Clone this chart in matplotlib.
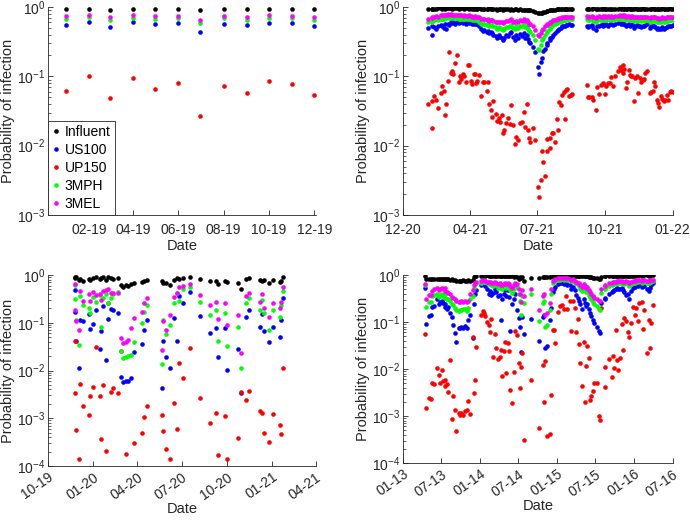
import numpy as np
import matplotlib
matplotlib.use("Agg")
import matplotlib.pyplot as plt
import matplotlib.dates as mdates
from matplotlib.ticker import LogLocator, NullFormatter

plt.rcParams['font.family'] = ['Liberation Sans', 'DejaVu Sans']
plt.rcParams['mathtext.default'] = 'regular'

names = ['Influent', 'US100', 'UP150', '3MPH', '3MEL']
colors = ['k', (0, 0, 1), (1, 0, 0), (0, 1, 0), (1, 0, 1)]
axcol = '#262626'

# ---- panel 1: monthly samples 2019 (probabilities)
dates1 = ['2019-01-01', '2019-02-01', '2019-03-01', '2019-04-01', '2019-05-01', '2019-06-01',
          '2019-07-01', '2019-08-01', '2019-09-01', '2019-10-01', '2019-11-01', '2019-12-01']
inf1 = [0.93, 0.94, 0.92, 0.94, 0.93, 0.94, 0.90, 0.93, 0.93, 0.94, 0.93, 0.93]
us1 = [0.556, 0.607, 0.52, 0.60, 0.56, 0.588, 0.44, 0.575, 0.543, 0.594, 0.58, 0.537]
up1 = [0.062, 0.10, 0.0485, 0.094, 0.0654, 0.0807, 0.027, 0.073, 0.0566, 0.086, 0.077, 0.0536]
mph1 = [0.67, 0.71, 0.64, 0.70, 0.67, 0.69, 0.59, 0.686, 0.66, 0.70, 0.686, 0.65]
mel1 = [0.733, 0.767, 0.71, 0.76, 0.733, 0.75, 0.656, 0.75, 0.725, 0.76, 0.75, 0.717]

# ---- panel 2: days after 2020-12-31, values as log10(probability)
base2 = '2020-12-31'
day2 = [34, 39, 40, 42, 45, 48, 51, 53, 55, 57, 58, 61, 62, 65, 66, 68, 71, 73, 76, 77,
        79, 81, 83, 85, 88, 90, 92, 93, 96, 98, 99, 101, 103, 106, 108, 110, 114, 116, 117, 119,
        121, 122, 126, 128, 130, 131, 134, 136, 137, 140, 143, 145, 147, 149, 152, 154, 156, 159, 161, 164,
        166, 168, 169, 171, 173, 176, 179, 183, 185, 187, 189, 190, 193, 195, 196, 199, 200, 202, 204, 206,
        209, 210, 212, 214, 216, 219, 220, 221, 223, 225, 228, 229,
        249, 251, 253, 256, 258, 262, 263, 266, 268, 271, 272, 274, 276, 278, 281, 282, 285, 287,
        292, 294, 296, 298, 299, 300, 302, 304, 306, 308, 309, 311, 313, 315, 317, 319, 321, 323, 325, 327,
        329, 331, 335, 337, 339, 341, 342, 344, 346, 348, 350, 352, 354, 355, 358, 360, 362, 364, 366]
inf2 = [-.03, -.03, -.03, -.03, -.03, -.02, -.02, -.03, -.02, -.03, -.02, -.02, -.02, -.02, -.03, -.02, -.02, -.02, -.03, -.02,
        -.02, -.02, -.03, -.02, -.02, -.03, -.02, -.03, -.03, -.02, -.03, -.03, -.02, -.03, -.03, -.03, -.03, -.03, -.02, -.03,
        -.03, -.03, -.03, -.04, -.03, -.03, -.03, -.04, -.03, -.03, -.03, -.04, -.03, -.04, -.03, -.03, -.04, -.03, -.04, -.04,
        -.04, -.04, -.05, -.05, -.05, -.06, -.07, -.08, -.09, -.08, -.08, -.07, -.07, -.06, -.06, -.05, -.05, -.04, -.04, -.04,
        -.03, -.03, -.03, -.03, -.03, -.03, -.03, -.03, -.03, -.03, -.03, -.03,
        -.03, -.03, -.03, -.03, -.02, -.03, -.03, -.03, -.03, -.02, -.03, -.03, -.03, -.03, -.03, -.03, -.03, -.03,
        -.03, -.02, -.03, -.03, -.02, -.03, -.03, -.03, -.02, -.03, -.03, -.03, -.03, -.02, -.03, -.03, -.03, -.03, -.02, -.03,
        -.03, -.03, -.03, -.03, -.02, -.03, -.03, -.03, -.03, -.03, -.03, -.02, -.03, -.03, -.03, -.03, -.02, -.03, -.03]
us2 = [-.30, -.41, -.28, -.29, -.31, -.27, -.26, -.28, -.30, -.25, -.31, -.24, -.26, -.22, -.23, -.22, -.24, -.22, -.23, -.21,
       -.22, -.23, -.21, -.24, -.22, -.23, -.22, -.25, -.24, -.22, -.24, -.25, -.27, -.32, -.35, -.33, -.36, -.35, -.38, -.36,
       -.37, -.40, -.42, -.44, -.41, -.43, -.45, -.47, -.44, -.40, -.42, -.38, -.36, -.43, -.48, -.41, -.44, -.39, -.42, -.37,
       -.44, -.40, -.46, -.50, -.52, -.58, -.65, -.86, -.96, -.79, -.74, -.64, -.60, -.55, -.52, -.48, -.45, -.43, -.40, -.37,
       -.35, -.33, -.31, -.30, -.28, -.27, -.27, -.26, -.26, -.25, -.26, -.26,
       -.27, -.29, -.28, -.26, -.30, -.33, -.28, -.27, -.26, -.25, -.27, -.26, -.25, -.27, -.25, -.24, -.26, -.24,
       -.23, -.22, -.24, -.23, -.25, -.24, -.28, -.26, -.25, -.27, -.26, -.25, -.30, -.27, -.26, -.28, -.27, -.29, -.27, -.28,
       -.26, -.25, -.30, -.28, -.28, -.27, -.29, -.31, -.30, -.32, -.31, -.29, -.31, -.30, -.29, -.28, -.27, -.27, -.26]
up2 = [-1.40, -1.75, -1.35, -1.28, -1.34, -1.45, -1.24, -1.14, -1.21, -1.56, -1.40, -1.07, -0.65, -0.95, -0.92, -0.97, -0.81, -0.69, -1.08, -0.99,
       -1.04, -0.97, -0.99, -1.08, -0.83, -0.84, -1.07, -1.11, -0.96, -0.97, -1.10, -1.06, -0.98, -1.28, -1.08, -1.08, -1.21, -1.08, -1.40, -1.49,
       -1.59, -1.36, -1.54, -1.65, -1.60, -1.66, -1.56, -1.81, -1.78, -1.68, -1.60, -1.69, -1.42, -1.70, -1.97, -1.88, -1.92, -1.68, -1.66, -1.51,
       -1.73, -1.40, -1.77, -1.89, -1.95, -1.74, -1.92, -2.60, -2.74, -2.49, -2.07, -2.24, -2.44, -2.07, -1.90, -1.89, -2.04, -1.82, -1.81, -1.94,
       -1.61, -1.78, -1.37, -1.41, -1.27, -1.23, -1.61, -1.19, -1.18, -1.28, -1.27, -1.25,
       -1.12, -1.30, -1.30, -1.30, -1.34, -1.49, -1.16, -1.26, -1.12, -1.10, -1.11, -1.26, -1.14, -1.09, -1.10, -1.01, -1.14, -0.99,
       -0.92, -0.87, -0.91, -0.84, -0.95, -0.89, -1.17, -1.08, -0.91, -0.98, -1.00, -0.99, -1.35, -1.02, -1.00, -1.24, -1.02, -1.08, -1.05, -1.04,
       -0.95, -0.92, -1.24, -1.23, -1.21, -1.08, -1.14, -1.34, -1.39, -1.44, -1.28, -1.32, -1.36, -1.34, -1.27, -1.34, -1.23, -1.21, -1.22]
mph2 = [-.22, -.20, -.21, -.19, -.18, -.19, -.17, -.17, -.17, -.16, -.16, -.15, -.16, -.15, -.16, -.16, -.16, -.16, -.17, -.17,
        -.17, -.18, -.17, -.18, -.18, -.17, -.18, -.19, -.19, -.18, -.19, -.19, -.21, -.24, -.25, -.24, -.26, -.25, -.27, -.26,
        -.27, -.28, -.29, -.31, -.29, -.30, -.31, -.33, -.31, -.29, -.29, -.27, -.26, -.30, -.31, -.28, -.30, -.27, -.28, -.26,
        -.29, -.27, -.31, -.34, -.36, -.40, -.47, -.60, -.62, -.55, -.48, -.45, -.40, -.36, -.34, -.31, -.29, -.27, -.25, -.24,
        -.23, -.22, -.21, -.20, -.20, -.19, -.19, -.19, -.18, -.18, -.18, -.18,
        -.18, -.19, -.19, -.18, -.20, -.21, -.19, -.18, -.19, -.18, -.19, -.18, -.19, -.18, -.19, -.18, -.19, -.18,
        -.18, -.17, -.18, -.17, -.18, -.17, -.19, -.18, -.18, -.19, -.19, -.18, -.20, -.19, -.19, -.20, -.19, -.20, -.19, -.20,
        -.19, -.19, -.21, -.20, -.20, -.19, -.20, -.21, -.21, -.22, -.21, -.20, -.21, -.21, -.20, -.20, -.19, -.19, -.19]
mel2 = [-.17, -.15, -.16, -.14, -.13, -.14, -.12, -.12, -.12, -.11, -.11, -.10, -.11, -.10, -.11, -.11, -.12, -.11, -.12, -.12,
        -.12, -.13, -.12, -.13, -.13, -.12, -.13, -.14, -.14, -.13, -.14, -.14, -.15, -.17, -.18, -.17, -.19, -.18, -.20, -.19,
        -.19, -.20, -.21, -.22, -.21, -.21, -.22, -.23, -.22, -.20, -.20, -.19, -.18, -.21, -.22, -.20, -.21, -.19, -.20, -.18,
        -.20, -.19, -.22, -.24, -.25, -.28, -.33, -.40, -.42, -.37, -.33, -.31, -.28, -.26, -.25, -.23, -.22, -.20, -.19, -.19,
        -.17, -.17, -.16, -.16, -.15, -.15, -.15, -.14, -.14, -.14, -.14, -.14,
        -.13, -.14, -.14, -.13, -.15, -.16, -.14, -.13, -.14, -.13, -.14, -.13, -.14, -.13, -.14, -.13, -.14, -.13,
        -.13, -.12, -.13, -.12, -.13, -.12, -.14, -.13, -.13, -.14, -.14, -.13, -.15, -.14, -.14, -.15, -.14, -.15, -.14, -.15,
        -.14, -.14, -.16, -.15, -.15, -.14, -.15, -.16, -.16, -.17, -.16, -.15, -.16, -.16, -.15, -.15, -.14, -.14, -.14]

# ---- panel 3: days after 2019-10-01, log10(probability)
base3 = '2019-10-01'
day3 = [55, 56, 57, 63, 65, 71, 84, 86, 92, 98, 106, 108, 113, 118, 122, 128, 134, 144, 149, 154,
        160, 164, 169, 176, 192, 196, 202, 234, 236, 242, 250, 257, 264, 269, 276, 290, 311, 331, 344, 347,
        363, 366, 388, 395, 406, 411, 433, 438, 442, 452, 461, 474, 476, 481]
inf3 = [-.05, -.07, -.03, -.10, -.09, -.12, -.09, -.10, -.07, -.05, -.09, -.07, -.05, -.10, -.03, -.07, -.09, -.07, -.21, -.24,
        -.21, -.23, -.19, -.16, -.14, -.12, -.10, -.12, -.16, -.17, -.21, -.10, -.07, -.08, -.07, -.03, -.09, -.12, -.12, -.19,
        -.12, -.14, -.16, -.30, -.09, -.07, -.10, -.12, -.10, -.17, -.10, -.14, -.12, -.05]
us3 = [-.31, -.78, -1.38, -1.95, -.94, -.97, -.81, -1.13, -1.02, -.73, -1.55, -1.18, -.65, -1.79, -.93, -.72, -.74, -.79, -2.14, -2.25,
       -2.23, -2.21, -2.16, -1.62, -1.44, -1.15, -.95, -2.37, -1.39, -1.72, -1.95, -.90, -1.38, -.44, -.58, -.35, -.86, -1.22, -1.11, -1.71,
       -1.11, -1.98, -1.55, -2.47, -.87, -.73, -1.08, -.82, -1.18, -1.41, -1.09, -1.29, -.94, -.49]
up3 = [-1.39, -2.47, -3.25, -3.85, -2.28, -2.75, -2.94, -2.54, -2.35, -1.50, -2.54, -3.43, -2.30, -3.69, -0.58, -2.46, -2.37, -2.48, -1.60, np.nan,
       -3.76, np.nan, np.nan, -3.51, -3.32, -2.97, -2.75, -2.94, -3.27, -3.64, -3.85, -2.68, -3.22, -1.84, -2.16, -1.53, -2.58, -3.10, -2.90, -3.78,
       -2.96, -3.86, -3.41, -2.46, -2.61, -2.42, -2.85, -2.90, -3.31, -3.50, -2.92, -3.15, -3.34, -1.95]
mph3 = [-.21, -.51, -.95, -1.46, -.44, -.63, -.68, -.80, -.45, -.56, -.42, -1.08, -.49, -.40, -.59, -.47, -.40, -.35, -1.60, -1.74,
        -1.72, -1.69, -1.67, -1.41, -1.01, -.77, -.63, -1.86, -.95, -1.23, -1.04, -.59, -.38, -.54, -.30, -.24, -.56, -.84, -.73, -1.39,
        -.80, -1.48, -1.08, -1.95, -.58, -.49, -.73, -.52, -.79, -1.15, -.73, -.88, -.63, -.33]
mel3 = [-.19, -.73, -.97, -1.16, -.33, -.54, -.40, -.54, -.35, -.42, -.40, -.52, -.33, -.31, -.30, -.37, -.38, -.38, -1.32, -1.43,
        -1.41, -1.37, -1.11, -.90, -.77, -.58, -.47, -1.57, -.96, -1.16, -.83, -.45, -.38, -.26, -.23, -.19, -.42, -.63, -.56, -.93,
        -.59, -1.04, -.83, -1.64, -.44, -.37, -.56, -.40, -.70, -.88, -.58, -.68, -.56, -.26]

# ---- panel 4: days after 2013-01-01, log10(probability)
base4 = '2013-01-01'
day4 = [106, 110, 123, 131, 137, 147, 161, 170, 175, 185, 189, 197, 200, 210, 213, 224, 232, 238, 244, 251,
        263, 270, 276, 282, 292, 301, 307, 317, 330, 336, 342, 348, 370, 377, 383, 389, 396, 405, 412, 418,
        427, 434, 440, 452, 459, 465, 471, 478, 484, 490, 497, 503, 509, 516, 525, 531, 538, 547, 553, 560,
        563, 572, 607, 642, 662, 667, 673, 681, 694, 702, 709, 717, 722, 736, 744, 752, 762, 773, 776, 791,
        796, 804, 815, 818, 828, 832, 840, 848, 856, 862, 867, 872, 880, 883, 891, 900, 906, 918, 927, 932,
        938, 954, 958, 973, 990, 993, 1001, 1009, 1014, 1020, 1026, 1036, 1041, 1048, 1058, 1064, 1072, 1080, 1088, 1096,
        1105, 1111, 1119, 1130, 1135, 1143, 1156, 1163, 1167, 1175, 1184]
inf4 = [-.02, -.08, -.09, -.09, -.09, -.09, -.08, -.08, -.09, -.08, -.08, -.08, -.09, -.08, -.09, -.10, -.09, -.10, -.11, -.12,
        -.12, -.12, -.12, -.11, -.12, -.12, -.11, -.12, -.10, -.04, -.03, -.02, -.02, -.02, -.02, -.02, -.01, -.02, -.02, -.02,
        -.02, -.02, -.02, -.03, -.02, -.03, -.03, -.02, -.02, -.03, -.02, -.03, -.03, -.03, -.04, -.03, -.05, -.09, -.05, -.07,
        -.05, -.12, -.06, -.06, -.05, -.05, -.05, -.05, -.04, -.03, -.02, -.02, -.02, -.01, -.01, -.01, -.01, -.01, -.01, -.01,
        -.02, -.01, -.02, -.02, -.02, -.02, -.03, -.03, -.02, -.03, -.03, -.03, -.04, -.04, -.05, -.06, -.06, -.07, -.08, -.08,
        -.04, -.03, -.03, -.03, -.02, -.02, -.02, -.02, -.02, -.02, -.02, -.02, -.02, -.02, -.02, -.02, -.02, -.02, -.02, -.02,
        -.01, -.01, -.01, -.02, -.01, -.01, -.01, -.02, -.01, -.01, -.01]
us4 = [-.28, -1.04, -.88, -.86, -.68, -.65, -.52, -.62, -.58, -.55, -.60, -.62, -.68, -.72, -.68, -.80, -.90, -1.06, -1.24, -1.42,
       -1.13, -1.12, -1.10, -1.13, -1.08, -1.12, -.96, -.85, -1.35, -.62, -.40, -.32, -.22, -.18, -.20, -.24, -.30, -.40, -.35, -.42,
       -.38, -.30, -.36, -.45, -.42, -.96, -.52, -.40, -.32, -.44, -.32, -.46, -1.20, -.62, -.52, -.40, -.74, -.92, -1.10, -1.63,
       -.90, -1.25, -.94, -1.40, -.90, -.85, -1.56, -1.51, -.95, -.70, -.36, -.30, -.26, -.20, -.18, -.17, -.19, -.16, -.21, -.22,
       -.30, -.25, -.32, -.42, -.48, -.56, -.62, -.72, -.50, -.60, -.66, -.62, -.72, -.80, -.88, -.96, -1.02, -1.10, -1.20, -1.24,
       -.60, -.52, -.48, -.40, -.36, -.34, -.32, -.30, -.28, -.30, -.30, -.28, -.32, -.36, -.42, -.40, -.50, -.34, -.28, -.26,
       -.22, -.24, -.20, -.26, -.22, -.24, -.30, -.34, -.28, -.22, -.18]
up4 = [-1.26, -2.83, -2.62, -2.64, -2.30, -2.32, -1.97, -2.12, -2.29, -2.02, -2.25, -2.24, -2.37, -2.32, -2.48, -1.81, -3.06, -2.58, -2.87, -3.31,
       -2.94, -2.97, -2.94, -2.98, -2.90, -2.88, -2.69, -2.95, -1.32, -2.50, -2.24, -1.54, -0.86, -0.76, -0.81, -0.88, -1.01, -1.06, -1.22, -0.94,
       -1.75, -1.25, -1.56, -1.78, -1.75, -1.59, -2.15, -1.61, -1.42, -2.09, -1.44, -1.61, -2.44, -2.73, -2.07, -1.20, -1.28, -1.88, -2.41, -1.95,
       -1.65, -3.52, -2.24, -3.26, -1.91, -2.71, -1.83, -3.43, -3.38, -2.56, -1.17, -1.17, -1.44, -0.78, -0.65, -0.64, -0.72, -0.45, -0.73, -0.55,
       -1.20, -0.55, -0.71, -1.21, -0.93, -1.47, -1.88, -2.37, -1.42, -2.71, -1.93, -1.52, -1.77, -2.65, -2.58, -2.47, -2.29, -2.30, -3.01, -3.08,
       -0.71, -1.96, -2.39, -1.79, -2.16, -1.72, -1.98, -1.17, -1.81, -2.03, -1.77, -1.04, -1.59, -0.92, -0.97, -1.21, -1.31, -1.03, -0.67, -0.85,
       -0.71, -0.98, -0.60, -0.57, -1.15, -0.74, -1.65, -0.96, -1.56, -1.03, -0.63]
mph4 = [-.21, -.69, -.57, -.57, -.45, -.42, -.40, -.46, -.43, -.40, -.44, -.40, -.48, -.50, -.52, -.55, -.62, -.64, -.70, -.74,
        -.76, -.75, -.74, -.73, -.72, -.76, -.70, -.52, -.45, -.28, -.20, -.18, -.16, -.13, -.14, -.15, -.18, -.20, -.18, -.21,
        -.24, -.20, -.22, -.27, -.24, -.28, -.30, -.25, -.21, -.27, -.22, -.27, -.32, -.38, -.30, -.22, -.26, -.40, -.55, -.85,
        -.44, -.60, -.40, -.97, -.60, -.55, -1.11, -1.06, -.75, -.40, -.18, -.15, -.13, -.10, -.10, -.09, -.10, -.09, -.10, -.11,
        -.13, -.12, -.16, -.18, -.20, -.24, -.29, -.34, -.26, -.32, -.36, -.34, -.42, -.46, -.52, -.58, -.62, -.66, -.72, -.75,
        -.38, -.30, -.28, -.24, -.21, -.20, -.19, -.18, -.18, -.17, -.18, -.17, -.19, -.20, -.17, -.19, -.24, -.19, -.16, -.16,
        -.14, -.15, -.13, -.16, -.14, -.15, -.17, -.18, -.15, -.14, -.13]
mel4 = [-.19, -.50, -.42, -.42, -.33, -.30, -.28, -.32, -.30, -.27, -.30, -.28, -.34, -.36, -.38, -.40, -.46, -.48, -.52, -.56,
        -.58, -.57, -.56, -.57, -.55, -.58, -.56, -.40, -.32, -.22, -.16, -.14, -.12, -.10, -.11, -.12, -.14, -.15, -.14, -.16,
        -.18, -.15, -.17, -.20, -.18, -.21, -.22, -.19, -.16, -.20, -.16, -.20, -.24, -.28, -.22, -.17, -.20, -.30, -.40, -.57,
        -.32, -.45, -.30, -.74, -.45, -.40, -.85, -.80, -.60, -.30, -.12, -.10, -.09, -.07, -.07, -.06, -.07, -.06, -.07, -.08,
        -.10, -.09, -.12, -.14, -.16, -.18, -.22, -.26, -.20, -.24, -.28, -.25, -.32, -.36, -.40, -.44, -.48, -.50, -.55, -.56,
        -.30, -.24, -.22, -.18, -.16, -.15, -.14, -.14, -.13, -.13, -.13, -.12, -.14, -.15, -.13, -.14, -.18, -.14, -.12, -.12,
        -.10, -.11, -.10, -.12, -.10, -.11, -.12, -.13, -.11, -.10, -.10]


def to_dates(base, days):
    return np.datetime64(base) + np.array(days).astype('timedelta64[D]')


def style(ax, ylo, xlo, xhi, ticks, rot, ylab_x):
    ax.set_yscale('log')
    ax.set_ylim(ylo, 1)
    ax.yaxis.set_major_locator(LogLocator(base=10, numticks=10))
    ax.yaxis.set_minor_locator(LogLocator(base=10, subs=np.arange(2, 10), numticks=10))
    ax.yaxis.set_minor_formatter(NullFormatter())
    ax.set_xlim(np.datetime64(xlo), np.datetime64(xhi))
    ax.set_xticks([np.datetime64(t) for t in ticks])
    ax.xaxis.set_major_formatter(mdates.DateFormatter('%m-%y'))
    ax.spines['top'].set_visible(False)
    ax.spines['right'].set_visible(False)
    for s in ['left', 'bottom']:
        ax.spines[s].set_color(axcol)
        ax.spines[s].set_linewidth(0.6)
    ax.tick_params(which='major', direction='in', length=3.5, width=0.6, colors=axcol, labelsize=10)
    ax.tick_params(axis='y', which='major', pad=2)
    ax.tick_params(which='minor', direction='in', length=2, width=0.5, colors=axcol)
    if rot:
        ax.tick_params(axis='x', which='major', pad=3)
        plt.setp(ax.get_xticklabels(), rotation=35, ha='right', rotation_mode='anchor')
        ax.set_xlabel('Date', fontsize=10.5, color=axcol, labelpad=0)
    else:
        ax.tick_params(axis='x', which='major', pad=6)
        ax.set_xlabel('Date', fontsize=10.5, color=axcol, labelpad=1)
    ax.set_ylabel('Probability of infection', fontsize=10.5, color=axcol)
    ax.yaxis.set_label_coords(ylab_x, 0.5)


def draw(ax, dates, series, logvals):
    for vals, name, c in zip(series, names, colors):
        v = np.array(vals, dtype=float)
        if logvals:
            v = 10 ** v
        ax.plot(dates, v, 'o', ms=3.3, mfc=c, mec='none', label=name)


fig = plt.figure(figsize=(6.9, 5.2), dpi=100)
ax1 = fig.add_axes([0.0696, 0.5865, 0.388, 0.40])
ax2 = fig.add_axes([0.584, 0.5865, 0.391, 0.40])
ax3 = fig.add_axes([0.0696, 0.104, 0.388, 0.367])
ax4 = fig.add_axes([0.584, 0.1096, 0.391, 0.3615])

draw(ax1, np.array(dates1, dtype='datetime64[D]'), [inf1, us1, up1, mph1, mel1], False)
draw(ax2, to_dates(base2, day2), [inf2, us2, up2, mph2, mel2], True)
draw(ax3, to_dates(base3, day3), [inf3, us3, up3, mph3, mel3], True)
draw(ax4, to_dates(base4, day4), [inf4, us4, up4, mph4, mel4], True)

style(ax1, 1e-3, '2018-12-08', '2019-12-03',
      ['2019-02-01', '2019-04-01', '2019-06-01', '2019-08-01', '2019-10-01', '2019-12-01'], False, -0.125)
style(ax2, 1e-3, '2020-12-31', '2022-01-01',
      ['2020-12-31', '2021-04-01', '2021-07-01', '2021-10-01', '2022-01-01'], False, -0.122)
style(ax3, 1e-4, '2019-10-01', '2021-04-01',
      ['2019-10-01', '2020-01-01', '2020-04-01', '2020-07-01', '2020-10-01', '2021-01-01', '2021-04-01'], True, -0.125)
style(ax4, 1e-4, '2013-01-01', '2016-07-01',
      ['2013-01-01', '2013-07-01', '2014-01-01', '2014-07-01', '2015-01-01', '2015-07-01', '2016-01-01', '2016-07-01'], True, -0.122)

leg = ax1.legend(loc='lower left', bbox_to_anchor=(0, 0), borderaxespad=0, fancybox=False,
                 edgecolor=axcol, framealpha=1, fontsize=10, handlelength=0.6, handletextpad=0.3,
                 labelspacing=0.28, borderpad=0.3, markerscale=1.0)
leg.get_frame().set_linewidth(0.6)

fig.savefig('out.png', dpi=100)
